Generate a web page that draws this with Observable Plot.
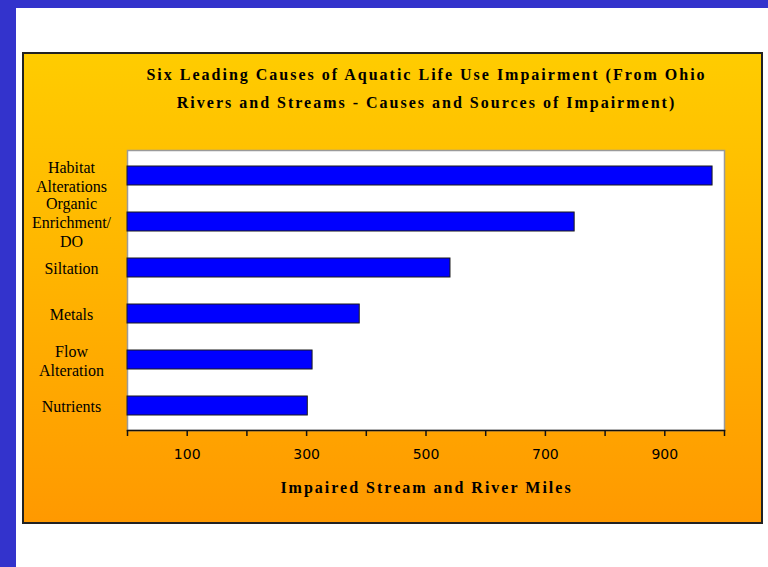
<!DOCTYPE html>
<html>
<head>
<meta charset="utf-8">
<script src="https://cdn.jsdelivr.net/npm/d3@7"></script>
<script src="https://cdn.jsdelivr.net/npm/@observablehq/plot@0.6"></script>
<style>
  html, body { margin: 0; padding: 0; }
  body { width: 768px; height: 567px; background: #3333CC; position: relative; overflow: hidden; }
  #page { position: absolute; left: 16px; top: 8px; right: 0; bottom: 0; background: #ffffff; }
  #panel { position: absolute; left: 22px; top: 52px; width: 737px; height: 468px;
           border: 2px solid #222; background: linear-gradient(#FFCC00, #FF9900); }
  #chart { position: absolute; left: 0; top: 0; }
  .ttl { position: absolute; left: 104px; width: 597px; text-align: center;
         font-family: "Liberation Serif", serif; font-weight: bold; font-size: 16px;
         letter-spacing: 2px; color: #000; white-space: nowrap; }
  #title { top: 7px; line-height: 28px; }
  #xlabel { top: 424px; line-height: 20px; }
</style>
</head>
<body>
<div id="page"></div>
<div id="panel">
  <div id="chart"></div>
  <div id="title" class="ttl">Six Leading Causes of Aquatic Life Use Impairment (From Ohio<br>Rivers and Streams - Causes and Sources of Impairment)</div>
  <div id="xlabel" class="ttl">Impaired Stream and River Miles</div>
</div>
<script>
const causes = ["Habitat\nAlterations", "Organic\nEnrichment/\nDO", "Siltation", "Metals", "Flow\nAlteration", "Nutrients"];
const miles = [980, 749, 541, 389, 310, 302];
const tickValues = [0, 100, 200, 300, 400, 500, 600, 700, 800, 900, 1000];
const tickLabels = [100, 300, 500, 700, 900];

const data = causes.map((c, i) => ({cause: c, miles: miles[i]}));

const chart = Plot.plot({
  width: 737,
  height: 468,
  marginLeft: 103,
  marginRight: 37,
  marginTop: 96,
  marginBottom: 92,
  style: {background: "transparent", fontFamily: "Liberation Serif, serif", color: "#000"},
  x: {domain: [0, 1000]},
  y: {domain: causes, paddingInner: 0.59, paddingOuter: 0.295},
  marks: [
    Plot.frame({fill: "white", stroke: "#9a9a9a", strokeWidth: 1.5}),
    Plot.barX(data, {x: "miles", y: "cause", fill: "#0000FF", stroke: "#1a1a1a", strokeWidth: 1}),
    Plot.frame({anchor: "bottom", stroke: "#111", strokeWidth: 1.5}),
    Plot.axisX({
      ticks: tickValues,
      tickSize: 6,
      tickPadding: 13,
      stroke: "#111",
      strokeWidth: 1.5,
      fontFamily: "DejaVu Sans, sans-serif",
      fontSize: 14,
      tickFormat: d => tickLabels.includes(d) ? String(d) : "",
      label: null
    }),
    Plot.axisY({
      tickSize: 0,
      tickPadding: 0,
      textAnchor: "middle",
      dx: -56,
      fontSize: 16,
      lineHeight: 1.2,
      label: null
    })
  ]
});
document.getElementById("chart").appendChild(chart);
</script>
</body>
</html>
